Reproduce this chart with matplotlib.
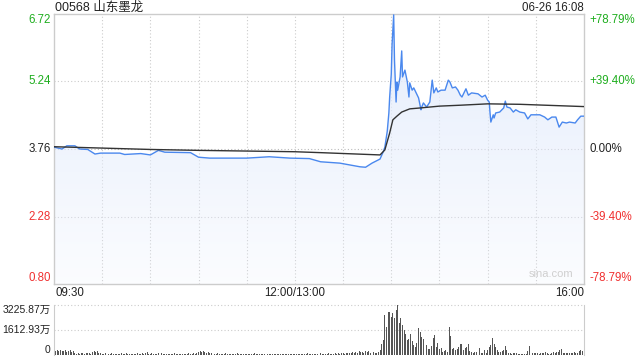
import numpy as np
import matplotlib
matplotlib.use("Agg")
import matplotlib.pyplot as plt
from matplotlib.patches import Polygon

plt.rcParams['font.family'] = ['Liberation Sans', 'Noto Sans CJK SC', 'DejaVu Sans']

title = "00568 山东墨龙"
stamp = "06-26 16:08"
prev_close = 3.76
price_ticks = [0.80, 2.28, 3.76, 5.24, 6.72]
pct_labels = ["-78.79%", "-39.40%", "0.00%", "+39.40%", "+78.79%"]
time_labels = ["09:30", "12:00/13:00", "16:00"]
vol_max = 3225.87
vol_labels = ["0", "1612.93万", "3225.87万"]

# minutes since 09:30, lunch break removed (330 = 16:00)
price_min = [0, 5, 8, 13, 16, 21, 25.5, 29, 41, 44, 54, 60, 65, 69, 85, 90, 97, 120,
             134, 147, 159, 166, 178, 190.5, 194, 198, 203, 205, 206, 207.5, 208.5,
             209, 210, 210.5, 211.5, 212, 213, 213.5, 214, 215.5, 216.5, 217, 218.5,
             220, 221, 221.5, 223, 224, 225.5, 227, 228.5, 229, 230, 232, 234, 235.5,
             236.5, 238, 239, 241, 243.5, 245.5, 246.5, 248, 250, 251.5, 253, 254,
             256.5, 258, 260, 264, 266.5, 268.5, 270, 271, 271.5, 272, 273.5, 274,
             275, 277.5, 280, 281, 282, 284, 286, 287.5, 290, 293, 295, 297, 302.5,
             305.5, 307.5, 310, 312.5, 314.5, 316.5, 319, 321, 324.5, 326, 328, 330]
price = [3.80, 3.76, 3.83, 3.83, 3.76, 3.75, 3.65, 3.67, 3.67, 3.64, 3.66, 3.63, 3.73,
         3.69, 3.68, 3.58, 3.56, 3.56, 3.59, 3.56, 3.55, 3.48, 3.45, 3.37, 3.36, 3.45,
         3.54, 3.70, 3.80, 4.15, 4.55, 4.90, 5.40, 6.05, 6.70, 5.71, 4.79, 5.23, 5.05,
         5.34, 5.91, 5.34, 5.49, 5.23, 4.90, 5.21, 5.05, 5.10, 4.99, 4.88, 4.62, 4.68,
         4.77, 4.68, 4.79, 5.27, 4.99, 5.10, 5.01, 5.05, 5.05, 5.27, 5.23, 5.10, 5.12,
         5.05, 4.94, 4.90, 5.08, 4.94, 4.99, 4.97, 4.90, 4.94, 4.83, 4.79, 4.55, 4.35,
         4.51, 4.44, 4.55, 4.57, 4.66, 4.81, 4.68, 4.66, 4.57, 4.62, 4.57, 4.55, 4.42,
         4.51, 4.51, 4.46, 4.40, 4.46, 4.46, 4.24, 4.35, 4.33, 4.35, 4.33, 4.40, 4.48,
         4.48]

avg_min = [0, 60, 90, 150, 166, 203, 206, 209, 211, 213.5, 216.5, 221.5, 228, 240,
           253, 270, 290, 330]
avg_price = [3.81, 3.75, 3.73, 3.70, 3.68, 3.63, 3.74, 4.11, 4.40, 4.48, 4.57, 4.64,
             4.66, 4.70, 4.72, 4.75, 4.74, 4.69]

# volume per minute, in 万
volume = [330, 280, 300, 260, 320, 240, 290, 310, 200, 270,
          300, 180, 250, 130, 90, 110, 80, 100, 120, 90,
          110, 150, 130, 90, 200, 260, 180, 230, 140, 100,
          90, 80, 110, 70, 90, 60, 100, 80, 70, 90,
          60, 80, 110, 70, 90, 150, 80, 60, 90, 70,
          80, 60, 100, 70, 90, 120, 80, 150, 180, 90,
          70, 100, 80, 60, 90, 110, 400, 120, 80, 90,
          70, 60, 90, 80, 70, 100, 60, 80, 70, 90,
          80, 60, 70, 90, 100, 70, 80, 110, 90, 130,
          200, 250, 180, 230, 210, 160, 190, 140, 120, 110,
          90, 80, 100, 70, 90, 80, 60, 100, 70, 80,
          90, 70, 60, 80, 100, 70, 90, 60, 80, 70,
          60, 90, 70, 80, 60, 100, 70, 80, 90, 60,
          70, 80, 60, 90, 70, 60, 80, 70, 90, 60,
          80, 70, 60, 90, 70, 80, 60, 70, 90, 80,
          60, 70, 80, 60, 90, 70, 60, 80, 100, 70,
          60, 80, 70, 90, 60, 80, 100, 70, 60, 90,
          80, 110, 70, 90, 80, 120, 90, 100, 80, 130,
          110, 90, 130, 100, 150, 120, 170, 130, 200, 150,
          260, 180, 220, 150, 280, 200, 240, 110, 150, 215,
          160, 107, 215, 320, 710, 970, 2580, 1800, 2750, 2750,
          2430, 2690, 2400, 2900, 3226, 2040, 2365, 1935, 1600, 1355,
          970, 1010, 1355, 900, 645, 535, 750, 1720, 1460, 1140,
          1010, 820, 645, 365, 365, 580, 1075, 1290, 535, 795,
          385, 470, 215, 280, 320, 215, 1825, 1225, 365, 430,
          320, 365, 500, 710, 710, 320, 430, 500, 710, 280,
          215, 150, 180, 215, 107, 430, 107, 107, 320, 150,
          300, 490, 645, 1075, 710, 490, 320, 215, 215, 260,
          320, 580, 320, 150, 107, 90, 107, 150, 107, 65,
          80, 65, 70, 65, 90, 280, 580, 280, 150, 150,
          107, 107, 65, 107, 150, 120, 170, 107, 65, 90,
          107, 170, 150, 215, 215, 320, 365, 150, 107, 150,
          150, 107, 150, 107, 170, 150, 150, 280, 320, 250, 430]

green = "#1fae1f"
red = "#f03030"
grid_c = "#cccccc"
blue = "#4a88ee"

fig = plt.figure(figsize=(6.4, 3.6), dpi=100)
ax = fig.add_axes([54/640, 1-284/360, 530/640, 270/360])
av = fig.add_axes([54/640, 1-355/360, 530/640, 50/360])

ax.set_xlim(0, 330)
ax.set_ylim(price_ticks[0], price_ticks[-1])

# gradient fill under the price line
verts = list(zip(price_min, price)) + [(330, price_ticks[0]), (0, price_ticks[0])]
poly = Polygon(verts, closed=True, facecolor="none", edgecolor="none")
ax.add_patch(poly)
grad = np.zeros((100, 2, 4))
grad[..., 0] = 0.90
grad[..., 1] = 0.93
grad[..., 2] = 0.99
grad[..., 3] = np.linspace(1.0, 0.15, 100)[:, None]
img = ax.imshow(grad, extent=[0, 330, price_ticks[0], price_ticks[-1]],
                aspect="auto", origin="upper", zorder=1)
img.set_clip_path(poly)

for t in range(30, 330, 30):
    ax.axvline(t, color=grid_c, lw=0.8, ls=(0, (1, 2)), zorder=0.5)
for p in price_ticks[1:-1]:
    c = "#bbbbbb" if p == prev_close else grid_c
    ax.axhline(p, color=c, lw=0.8, ls=(0, (1, 2)), zorder=0.5)

ax.plot(price_min, price, color=blue, lw=1.0, zorder=3)
ax.plot(avg_min, avg_price, color="#333333", lw=1.0, zorder=4)

ax.set_xticks([])
ax.set_yticks([])
for s in ax.spines.values():
    s.set_color("#cccccc")
    s.set_linewidth(1)

# left / right labels
cols = [red, red, "#222222", green, green]
vas = ["bottom", "center", "center", "center", "top"]
for p, lab, c, va in zip(price_ticks, pct_labels, cols, vas):
    ax.text(-0.006, p, f"{p:.2f}", transform=ax.get_yaxis_transform(),
            ha="right", va=va, color=c, fontsize=8.3)
    ax.text(1.011, p, lab, transform=ax.get_yaxis_transform(),
            ha="left", va=va, color=c, fontsize=8.3)

ax.text(0.002, -0.035, time_labels[0], transform=ax.transAxes, ha="left", va="center",
        fontsize=8.3, color="#222222")
ax.text(150/330, -0.035, time_labels[1], transform=ax.transAxes, ha="center",
        va="center", fontsize=8.3, color="#222222")
ax.text(1.0, -0.035, time_labels[2], transform=ax.transAxes, ha="right", va="center",
        fontsize=8.3, color="#222222")

ax.text(0.98, 0.02, "sina.com", transform=ax.transAxes, ha="right", va="bottom",
        fontsize=8, color="#cfcfcf")

fig.text(55/640, 1-8/360, title, ha="left", va="center", fontsize=9, color="#222222")
fig.text(584/640, 1-8/360, stamp, ha="right", va="center", fontsize=8.3,
         color="#222222")

# volume panel
av.set_xlim(0, 330)
av.set_ylim(0, vol_max)
av.bar(np.arange(len(volume)), volume, width=0.6, color="#555555", zorder=2)
for v in [vol_max / 2, vol_max]:
    av.axhline(v, color=grid_c, lw=0.8, ls=(0, (1, 2)), zorder=0.5, clip_on=False)
av.set_xticks([])
av.set_yticks([])
av.spines["top"].set_visible(False)
av.spines["bottom"].set_visible(False)
av.spines["left"].set_color("#cccccc")
av.spines["right"].set_color("#cccccc")
for v, lab, va in zip([0, vol_max / 2, vol_max], vol_labels, ["bottom", "center", "top"]):
    av.text(-0.006, v, lab, transform=av.get_yaxis_transform(), ha="right", va=va,
            fontsize=7.5, color="#222222")

fig.savefig("out.png", dpi=100)
